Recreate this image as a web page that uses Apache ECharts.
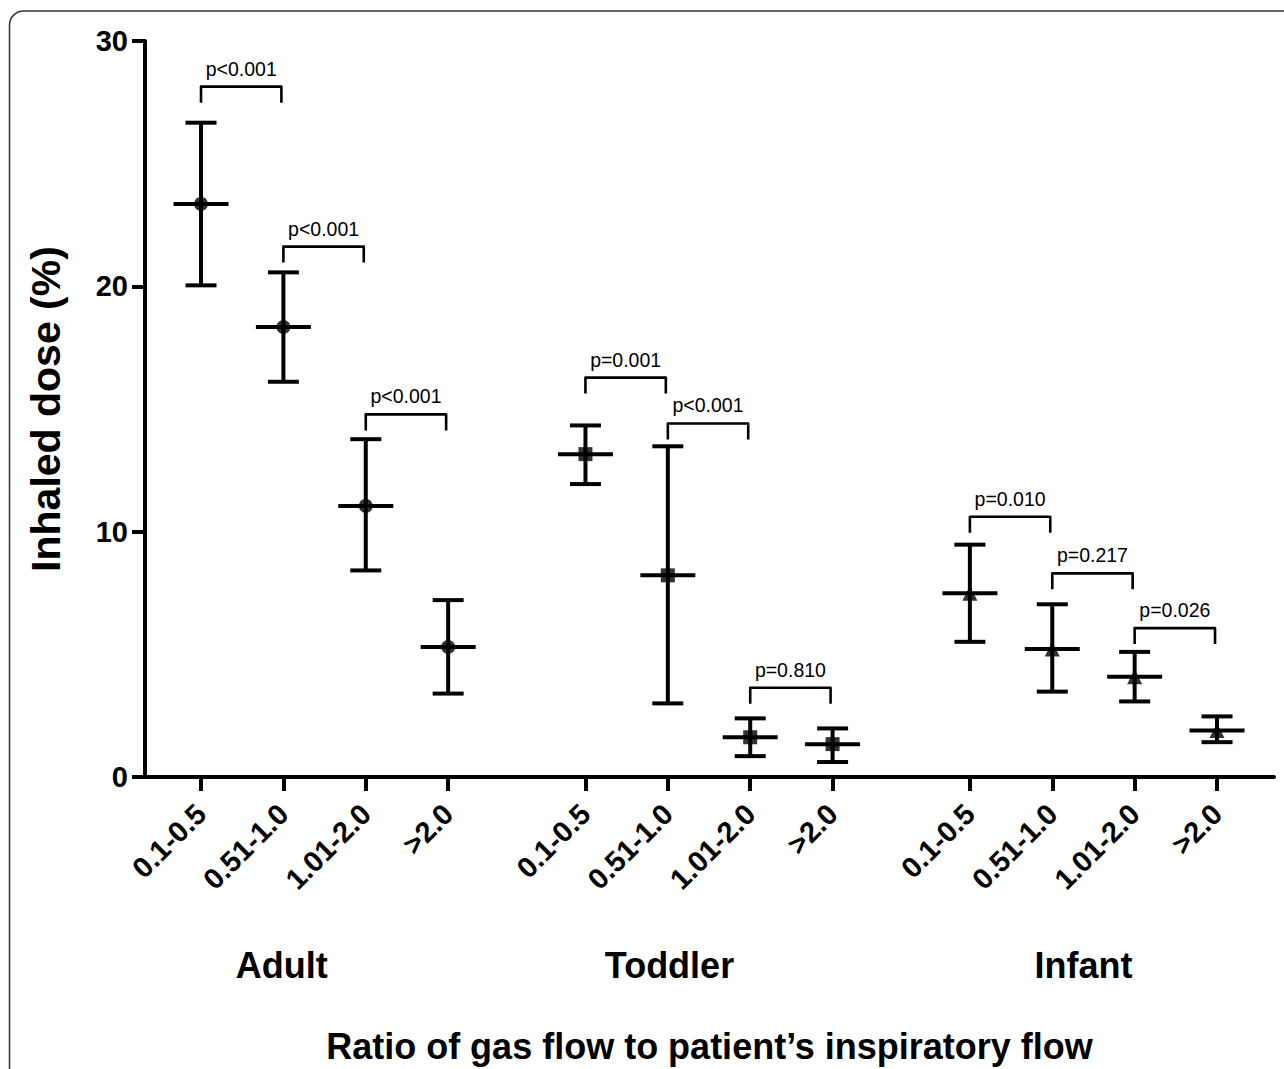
<!DOCTYPE html>
<html>
<head>
<meta charset="utf-8">
<style>
  html, body { margin: 0; padding: 0; background: #fff; }
  #chart { width: 1284px; height: 1069px; }
</style>
<script src="https://cdn.jsdelivr.net/npm/echarts@6/dist/echarts.min.js"></script>
</head>
<body>
<div id="chart"></div>
<script>
// ---------------- data ----------------
const groups = ['Adult', 'Toddler', 'Infant'];
const ratioLabels = ['0.1-0.5', '0.51-1.0', '1.01-2.0', '>2.0'];
const yTicks = [0, 10, 20, 30];

const adultMean = [23.36, 18.34, 11.05, 5.30];
const adultLow  = [20.04, 16.11, 8.42, 3.40];
const adultHigh = [26.67, 20.57, 13.77, 7.21];

const toddlerMean = [13.16, 8.22, 1.62, 1.34];
const toddlerLow  = [11.94, 3.00, 0.85, 0.61];
const toddlerHigh = [14.33, 13.48, 2.39, 1.98];

const infantMean = [7.49, 5.22, 4.09, 1.90];
const infantLow  = [5.51, 3.48, 3.08, 1.42];
const infantHigh = [9.47, 7.04, 5.10, 2.47];

const adultP   = ['p<0.001', 'p<0.001', 'p<0.001'];
const toddlerP = ['p=0.001', 'p<0.001', 'p=0.810'];
const infantP  = ['p=0.010', 'p=0.217', 'p=0.026'];

const adultBracket   = [28.14, 21.62, 14.78];
const toddlerBracket = [16.28, 14.41, 3.64];
const infantBracket  = [10.61, 8.30, 6.07];

// ---------------- layout helpers ----------------
const GROUP_STEP = 4 + 2 / 3;           // spacing between groups (in category units)
const pos = (g, i) => g * GROUP_STEP + i;
const groupLabelOffset = [0.98, 1.02, 1.38]; // label position within each group

const means = [adultMean, toddlerMean, infantMean];
const lows = [adultLow, toddlerLow, infantLow];
const highs = [adultHigh, toddlerHigh, infantHigh];
const pvals = [adultP, toddlerP, infantP];
const brackets = [adultBracket, toddlerBracket, infantBracket];
const symbols = ['circle', 'rect', 'triangle'];
const symbolSizes = [14, 14, 15];

const key = v => Math.round(v * 1000);
const tickPositions = [];
const tickLabelMap = {};
groups.forEach((g, gi) => ratioLabels.forEach((lab, i) => {
  const p = pos(gi, i);
  tickPositions.push(p);
  tickLabelMap[key(p)] = lab;
}));
const groupPositions = [];
const groupLabelMap = {};
groups.forEach((g, gi) => {
  const p = gi * GROUP_STEP + groupLabelOffset[gi];
  groupPositions.push(p);
  groupLabelMap[key(p)] = g;
});

const errData = [];
groups.forEach((g, gi) => ratioLabels.forEach((lab, i) => {
  errData.push([pos(gi, i), means[gi][i], lows[gi][i], highs[gi][i]]);
}));

const bracketData = [];
const bracketText = [];
groups.forEach((g, gi) => pvals[gi].forEach((t, i) => {
  bracketData.push([pos(gi, i), pos(gi, i + 1), brackets[gi][i]]);
  bracketText.push(t);
}));

const FONT = '"Liberation Sans", Arial, Helvetica, sans-serif';

const chart = echarts.init(document.getElementById('chart'), null, { renderer: 'svg' });

const scatterSeries = groups.map((g, gi) => ({
  type: 'scatter',
  name: g,
  xAxisIndex: 0,
  symbol: symbols[gi],
  symbolSize: symbolSizes[gi],
  itemStyle: { color: '#000' },
  z: 5,
  silent: true,
  data: ratioLabels.map((lab, i) => [pos(gi, i), means[gi][i]])
}));

const option = {
  backgroundColor: '#fff',
  animation: false,
  grid: { left: 145, right: 10, top: 41, bottom: 287, containLabel: false },
  graphic: [{
    type: 'rect',
    shape: { x: 9.5, y: 11, width: 1320, height: 1120, r: 14 },
    style: { fill: 'none', stroke: '#333', lineWidth: 1.5 },
    z: -10, silent: true
  }],
  xAxis: [{
    type: 'value',
    min: -0.68,
    max: 13.025,
    position: 'bottom',
    axisLine: { show: true, onZero: false, lineStyle: { color: '#000', width: 4 } },
    axisTick: { show: true, customValues: tickPositions, length: 14, lineStyle: { color: '#000', width: 4 } },
    axisLabel: {
      customValues: tickPositions,
      formatter: v => tickLabelMap[key(v)] || '',
      rotate: 45,
      margin: 32,
      color: '#000',
      fontSize: 29,
      fontWeight: 'bold',
      fontFamily: FONT
    },
    splitLine: { show: false },
    name: 'Ratio of gas flow to patient\u2019s inspiratory flow',
    nameLocation: 'middle',
    nameGap: 251,
    nameTextStyle: { color: '#000', fontSize: 36, fontWeight: 'bold', fontFamily: FONT }
  }, {
    type: 'value',
    min: -0.68,
    max: 13.025,
    position: 'bottom',
    axisLine: { show: false, onZero: false },
    axisTick: { show: false },
    axisLabel: {
      customValues: groupPositions,
      formatter: v => groupLabelMap[key(v)] || '',
      margin: 170,
      color: '#000',
      fontSize: 36,
      fontWeight: 'bold',
      fontFamily: FONT
    },
    splitLine: { show: false }
  }],
  yAxis: {
    type: 'value',
    min: 0,
    max: 30,
    interval: 10,
    axisLine: { show: true, onZero: false, lineStyle: { color: '#000', width: 4 } },
    axisTick: { show: true, length: 13, lineStyle: { color: '#000', width: 4 } },
    axisLabel: {
      customValues: yTicks,
      margin: 17,
      color: '#000',
      fontSize: 29,
      fontWeight: 'bold',
      fontFamily: FONT
    },
    splitLine: { show: false },
    name: 'Inhaled dose (%)',
    nameLocation: 'middle',
    nameGap: 79,
    nameTextStyle: { color: '#000', fontSize: 41, fontWeight: 'bold', fontFamily: FONT }
  },
  series: [{
    type: 'custom',
    name: 'errorbars',
    xAxisIndex: 0,
    silent: true,
    z: 3,
    encode: { x: 0, y: [1, 2, 3] },
    data: errData,
    renderItem: (params, api) => {
      const x = api.value(0);
      const pm = api.coord([x, api.value(1)]);
      const pl = api.coord([x, api.value(2)]);
      const ph = api.coord([x, api.value(3)]);
      const st = { stroke: '#000', lineWidth: 4 };
      const capW = 15.5, meanW = 27.5;
      return {
        type: 'group',
        children: [
          { type: 'line', shape: { x1: ph[0], y1: ph[1], x2: pl[0], y2: pl[1] }, style: st },
          { type: 'line', shape: { x1: ph[0] - capW, y1: ph[1], x2: ph[0] + capW, y2: ph[1] }, style: st },
          { type: 'line', shape: { x1: pl[0] - capW, y1: pl[1], x2: pl[0] + capW, y2: pl[1] }, style: st },
          { type: 'line', shape: { x1: pm[0] - meanW, y1: pm[1], x2: pm[0] + meanW, y2: pm[1] }, style: st }
        ]
      };
    }
  }, {
    type: 'custom',
    name: 'brackets',
    xAxisIndex: 0,
    silent: true,
    z: 4,
    encode: { x: [0, 1], y: 2 },
    data: bracketData,
    renderItem: (params, api) => {
      const p1 = api.coord([api.value(0), api.value(2)]);
      const p2 = api.coord([api.value(1), api.value(2)]);
      const leg = 16;
      const x1 = p1[0], x2 = p2[0] - 2, y = p1[1];
      return {
        type: 'group',
        children: [
          {
            type: 'polyline',
            shape: { points: [[x1, y + leg], [x1, y], [x2, y], [x2, y + leg]] },
            style: { stroke: '#000', lineWidth: 2.6, fill: 'none', lineJoin: 'round' }
          },
          {
            type: 'text',
            x: (x1 + x2) / 2,
            y: y - 8,
            style: {
              text: bracketText[params.dataIndex],
              fill: '#000',
              fontSize: 19.5,
              fontFamily: FONT,
              align: 'center',
              verticalAlign: 'bottom'
            }
          }
        ]
      };
    }
  }].concat(scatterSeries)
};

chart.setOption(option);
</script>
</body>
</html>
